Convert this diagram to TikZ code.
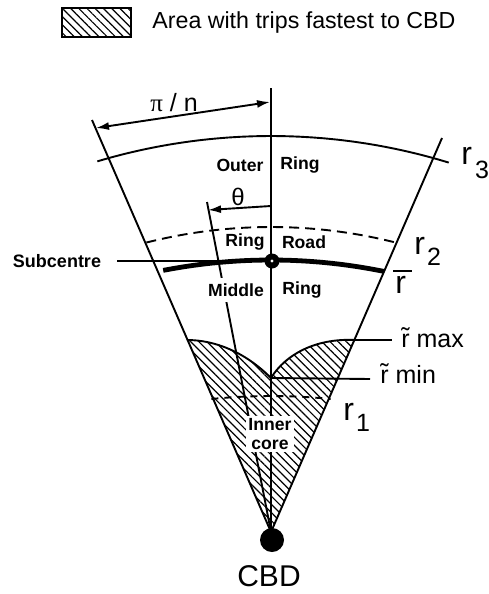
\documentclass[tikz,border=0pt]{standalone}
\usepackage{fontspec}
\setmainfont{Liberation Sans}
\newfontfamily\seriffam{Liberation Serif}
\usetikzlibrary{patterns.meta,arrows.meta,calc}
\begin{document}
\begin{tikzpicture}[x=0.5pt,y=-0.5pt,
  thinline/.style={line width=0.95pt},
  thickarc/.style={line width=2.4pt},
  hatch/.style={pattern={Lines[angle=-45,distance=2.9pt,line width=0.6pt]}},
  zone/.style={font=\fontsize{8.8}{9.5}\selectfont\bfseries, inner sep=1pt},
  rlab/.style={font=\fontsize{16}{16}\selectfont, inner sep=0pt, anchor=base west},
  tlab/.style={font=\fontsize{12.5}{13}\selectfont, inner sep=0pt, anchor=base west},
  tipboth/.style={{Latex[length=6.5pt,width=4pt]}-{Latex[length=6.5pt,width=4pt]}},
  tipend/.style={-{Latex[length=6.5pt,width=4pt]}},
]
\useasboundingbox (0,0) rectangle (488,594);

% key points
\coordinate (A) at (271,532);
\coordinate (Ltop) at (92,120);
\coordinate (Rtop) at (442,138);
\coordinate (Vtop) at (271,88);
\coordinate (Ttop) at (207,202);
\coordinate (L1) at (187,340);
\coordinate (R1) at (355,340);
\coordinate (C) at (271,378);
\coordinate (rmaxend) at (392,340);
\coordinate (rminend) at (370,379);

% hatched area
\path[hatch] (A) -- (L1) .. controls (215,340) and (245,352) .. (C)
  .. controls (285,355) and (315,338) .. (R1) -- cycle;
\draw[thinline] (L1) .. controls (215,340) and (245,352) .. (C)
  .. controls (285,355) and (315,338) .. (R1);

% sector lines and radial lines
\draw[thinline] (Ltop) -- (A) -- (Rtop);
\draw[thinline] (Vtop) -- (A);
\draw[thinline] (Ttop) -- (A);

% arcs
\draw[thinline] plot[domain=-16.6:17, samples=60] ({271+608*sin(\x)},{744-608*cos(\x)});
\draw[thinline, dash pattern=on 5pt off 3pt] plot[domain=-14.2:14.4, samples=60] ({271+508*sin(\x)},{735-508*cos(\x)});
\draw[thickarc] plot[domain=-11:11.5, samples=60] ({271+565*sin(\x)},{825-565*cos(\x)});
\draw[thinline, dash pattern=on 3.5pt off 3pt] plot[domain=-5.7:5.7, samples=30] ({271+600*sin(\x)},{996-600*cos(\x)});

% r~ lines
\draw[thinline] (R1) -- (rmaxend);
\draw[thinline] (C) -- (rminend);

% arrows
\coordinate (pl) at (96,128);
\coordinate (pr) at (270,102);
\draw[thinline, tipboth] (pl) -- (pr);
\coordinate (ta) at (271,206);
\coordinate (tb) at (208,210);
\draw[thinline, tipend] (ta) -- (tb);

% subcentre
\node[circle, fill=black, inner sep=0pt, minimum size=7.5pt] (sub) at (272,261) {};
\fill[white] (sub.center) circle[radius=1.6];
\node[font=\fontsize{9}{9}\selectfont\bfseries, inner sep=0pt] (subl) at (57,261) {Subcentre};
\coordinate (subs) at (117,261);
\draw[thinline] (subs) -- (sub.west);

% CBD
\node[circle, fill=black, inner sep=0pt, minimum size=12pt] (cbd) at (272,540) {};
\node[font=\fontsize{15}{15}\selectfont, inner sep=0pt] (cbdl) at (269,576) {CBD};

% zone labels
\node[zone] (outer) at (240,165) {Outer};
\node[zone] (outerring) at (300,165) {Ring};
\node[zone] (ringr) at (245,242) {Ring};
\node[zone] (road) at (304,242) {Road};
\node[zone, fill=white, inner xsep=1pt, inner ysep=3pt] (middle) at (236,290) {Middle};
\node[zone] (midring) at (302,290) {Ring};
\node[zone, fill=white, align=center, inner sep=1pt] (inner) at (270,434) {Inner\\core};

% labels
\node[font=\fontsize{12.5}{13}\selectfont, inner sep=0pt] (pin) at (174,103) {{\seriffam π} / n};
\node[font=\fontsize{12}{12}\selectfont, inner sep=0pt] (theta) at (238,197) {θ};

\node[rlab] (r3) at (461,164) {r\hspace{1.5pt}\raisebox{-7pt}{\fontsize{12.5}{12.5}\selectfont 3}};
\node[rlab] (r2) at (414,254) {r\hspace{1pt}\raisebox{-5.5pt}{\fontsize{12.5}{12.5}\selectfont 2}};
\node[rlab] (r1) at (343,420) {r\hspace{1pt}\raisebox{-5.5pt}{\fontsize{12.5}{12.5}\selectfont 1}};
\node[rlab] (rbar) at (395,293) {r};
\coordinate (barl) at (393,271);
\coordinate (barr) at (412,271);
\draw[line width=1pt] (barl) -- (barr);

\node[tlab] (rmax) at (401,347) {\rlap{\raisebox{0.05em}{\char"02DC}}r max};
\node[tlab] (rmin) at (380,383) {\rlap{\raisebox{0.05em}{\char"02DC}}r min};

% legend
\node[draw, hatch, line width=1pt, minimum width=34.5pt, minimum height=14.5pt, inner sep=0pt] (leg) at (96.5,22.5) {};
\node[anchor=west, font=\fontsize{11.6}{12}\selectfont, inner sep=0pt] (legt) at (152,23) {Area with trips fastest to CBD};
\end{tikzpicture}
\end{document}
